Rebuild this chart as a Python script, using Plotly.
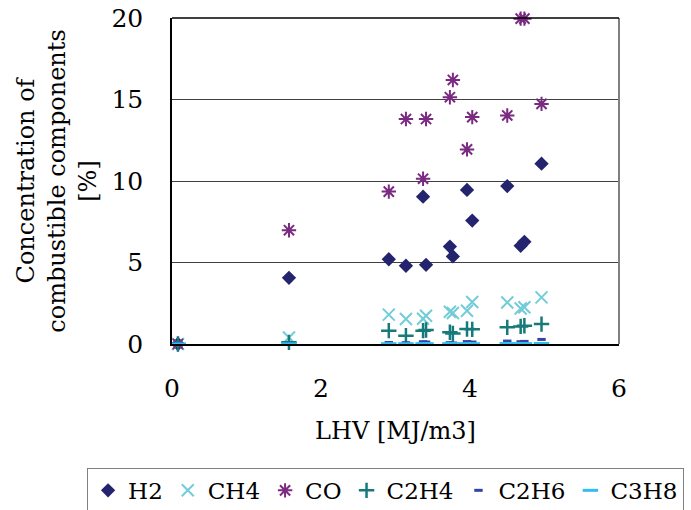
import plotly.graph_objects as go

# LHV [MJ/m3] for each sample
lhv = [0.08, 1.57, 2.91, 3.14, 3.37, 3.41, 3.73, 3.77, 3.96, 4.03, 4.50, 4.68, 4.73, 4.96]

h2 = [0.0, 4.06, 5.2, 4.8, 9.04, 4.86, 5.98, 5.37, 9.45, 7.57, 9.69, 6.02, 6.27, 11.06]
ch4 = [0.0, 0.4, 1.8, 1.53, 1.55, 1.73, 1.98, 1.9, 2.04, 2.58, 2.55, 2.18, 2.25, 2.86]
co = [0.0, 6.98, 9.35, 13.8, 10.14, 13.8, 15.14, 16.2, 11.94, 13.92, 14.02, 19.96, 19.96, 14.73]
c2h4 = [0.0, 0.1, 0.82, 0.51, 0.82, 0.86, 0.72, 0.65, 0.92, 0.9, 1.02, 1.08, 1.12, 1.22]
c2h6 = [0.0, 0.02, 0.09, 0.08, 0.14, 0.12, 0.08, 0.06, 0.15, 0.12, 0.18, 0.14, 0.16, 0.28]
c3h8 = [0.0, 0.01, 0.02, 0.02, 0.02, 0.02, 0.02, 0.02, 0.02, 0.02, 0.03, 0.02, 0.02, 0.03]

names = ["H2", "CH4", "CO", "C2H4", "C2H6", "C3H8"]
series = [h2, ch4, co, c2h4, c2h6, c3h8]
symbols = ["diamond", "x-thin-open", "asterisk-open", "cross-thin-open", "line-ew-open", "line-ew-open"]
colors = ["#24246E", "#72CDD8", "#7A2A80", "#16797A", "#3344A6", "#35BDEE"]
sizes = [11, 12, 12, 11, 6, 11]
widths = [0, 2, 2, 2.5, 3, 3]

FONT = "DejaVu Serif"

fig = go.Figure()
for n, s, sym, c, sz, w in zip(names, series, symbols, colors, sizes, widths):
    fig.add_trace(go.Scatter(
        x=lhv, y=s, mode="markers", name=n,
        marker=dict(symbol=sym, color=c, size=sz, line=dict(color=c, width=w)),
        cliponaxis=False,
    ))

fig.update_layout(
    width=691, height=510,
    margin=dict(l=172, r=72, t=18, b=166, autoexpand=False),
    paper_bgcolor="white", plot_bgcolor="white",
    font=dict(family=FONT, color="black", size=24),
    showlegend=True,
    legend=dict(
        orientation="h", x=-0.19, xanchor="left", y=-0.38, yanchor="top",
        bordercolor="#808080", borderwidth=1, bgcolor="white",
        font=dict(family=FONT, size=23), itemwidth=30, tracegroupgap=0,
    ),
    xaxis=dict(
        range=[0, 6], tickvals=[0, 2, 4, 6], showgrid=False, zeroline=False,
        showline=True, linecolor="black", linewidth=1.5, mirror=False,
        ticks="", ticklabelstandoff=21, tickfont=dict(size=25), automargin=False,
        title=dict(text="LHV [MJ/m3]", font=dict(size=24), standoff=20),
    ),
    yaxis=dict(
        range=[0, 20], tickvals=[0, 5, 10, 15, 20], showgrid=True,
        gridcolor="#404040", gridwidth=1.3, zeroline=False,
        showline=True, linecolor="black", linewidth=1.5, mirror=False,
        ticks="", ticklabelstandoff=22, tickfont=dict(size=25), automargin=False,
        title=dict(text="Concentration of<br>combustible components<br>[%]",
                   font=dict(size=24), standoff=8),
    ),
    shapes=[
        dict(type="line", xref="paper", yref="paper", x0=1, x1=1, y0=0, y1=1,
             line=dict(color="#808080", width=2)),
        dict(type="line", xref="paper", yref="paper", x0=0, x1=1, y0=1, y1=1,
             line=dict(color="black", width=1.5)),
    ],
)

fig.write_html("out.html")
